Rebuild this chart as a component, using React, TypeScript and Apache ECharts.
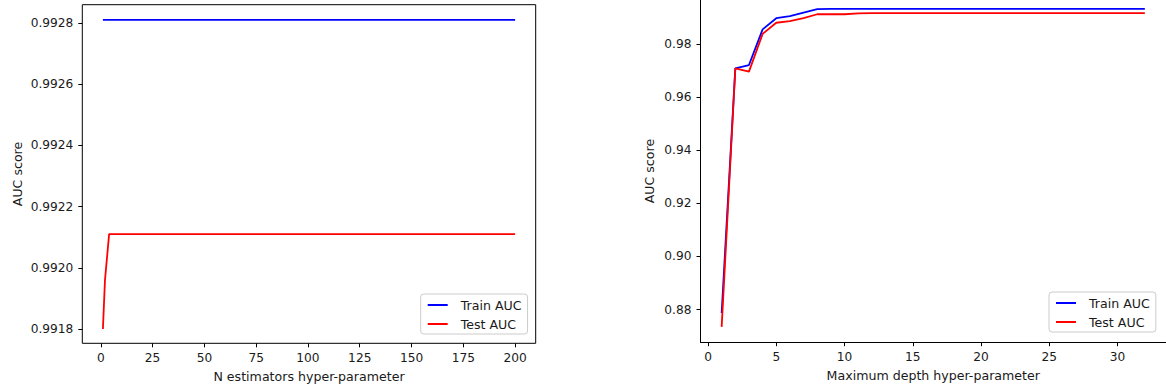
import React, { useEffect, useRef } from "react";
import * as echarts from "echarts";

// ---- data ----
const nEstimators = [1, 2, 4, 8, 16, 32, 64, 100, 200];
const trainAucEst = [0.99281, 0.99281, 0.99281, 0.99281, 0.99281, 0.99281, 0.99281, 0.99281, 0.99281];
const testAucEst = [0.9918, 0.99196, 0.99211, 0.99211, 0.99211, 0.99211, 0.99211, 0.99211, 0.99211];

const maxDepths = [1, 2, 3, 4, 5, 6, 7, 8, 9, 10, 11, 12, 13, 14, 15, 16, 17, 18, 19, 20, 21, 22, 23, 24, 25, 26, 27, 28, 29, 30, 31, 32];
const trainAucDepth = [0.8787, 0.9707, 0.972, 0.9854, 0.9896, 0.9904, 0.9917, 0.993, 0.9931, 0.9931, 0.9931, 0.9931, 0.9931, 0.9931, 0.9931, 0.9931, 0.9931, 0.9931, 0.9931, 0.9931, 0.9931, 0.9931, 0.9931, 0.9931, 0.9931, 0.9931, 0.9931, 0.9931, 0.9931, 0.9931, 0.9931, 0.9931];
const testAucDepth = [0.8735, 0.9707, 0.9695, 0.9837, 0.9879, 0.9885, 0.9896, 0.9911, 0.9911, 0.9911, 0.9914, 0.9915, 0.9915, 0.9915, 0.9915, 0.9915, 0.9915, 0.9915, 0.9915, 0.9915, 0.9915, 0.9915, 0.9915, 0.9915, 0.9915, 0.9915, 0.9915, 0.9915, 0.9915, 0.9915, 0.9915, 0.9915];

const estXTicks = [0, 25, 50, 75, 100, 125, 150, 175, 200];
const estYTicks = [0.9918, 0.992, 0.9922, 0.9924, 0.9926, 0.9928];
const depthXTicks = [0, 5, 10, 15, 20, 25, 30];
const depthYTicks = [0.88, 0.9, 0.92, 0.94, 0.96, 0.98];

const seriesNames = ["Train AUC", "Test AUC"];
const colors = ["#0000ff", "#ff0000"];

const FONT = "DejaVu Sans";
const TXT = "#1a1a1a";

function zip(xs: number[], ys: number[]) {
  return xs.map((x, i) => [x, ys[i]]);
}

function axisCommon(ticks: number[], digits: number, showLine: boolean) {
  return {
    nameLocation: "middle",
    nameTextStyle: { fontFamily: FONT, fontSize: 12.6, color: TXT },
    axisLine: { show: showLine, onZero: false, lineStyle: { color: "#000", width: 1 } },
    splitLine: { show: false },
    axisTick: { show: true, inside: false, length: 4, customValues: ticks, lineStyle: { color: "#000", width: 1 } },
    axisLabel: {
      show: true,
      customValues: ticks,
      margin: 9,
      fontFamily: FONT,
      fontSize: 12.2,
      color: TXT,
      formatter: (v: number) => v.toFixed(digits),
    },
  };
}

function legendCfg(left: number, top: number) {
  return {
    orient: "vertical",
    left,
    top,
    data: seriesNames.map((n) => ({ name: n, icon: "rect" })),
    itemWidth: 20,
    itemHeight: 2,
    itemGap: 5,
    padding: [4, 6, 3, 7],
    backgroundColor: "#ffffff",
    borderColor: "#cccccc",
    borderWidth: 1,
    borderRadius: 3,
    selectedMode: false,
    textStyle: { fontFamily: FONT, fontSize: 12.6, color: TXT, lineHeight: 14, padding: [0, 0, 0, 8] },
  };
}

export default function App() {
  const ref = useRef<HTMLDivElement>(null);
  useEffect(() => {
    if (!ref.current) return;
    const chart = echarts.init(ref.current, null, { renderer: "svg" });
    const line = (name: string, color: string, data: number[][], idx: number) => ({
      type: "line",
      name,
      xAxisIndex: idx,
      yAxisIndex: idx,
      data,
      symbol: "none",
      showSymbol: false,
      lineStyle: { color, width: 1.8 },
      itemStyle: { color },
      emphasis: { disabled: true },
    });
    chart.setOption({
      animation: false,
      backgroundColor: "#ffffff",
      grid: [
        { left: 82.3, top: 4.7, width: 453.4, height: 338.6, show: true, borderColor: "#000", borderWidth: 1, backgroundColor: "transparent" },
        { left: 700.5, top: 0, width: 468.3, height: 342.2, show: false },
      ],
      xAxis: [
        { type: "value", gridIndex: 0, min: -8.95, max: 209.95, name: "N estimators hyper-parameter", nameGap: 27, ...axisCommon(estXTicks, 0, false) },
        { type: "value", gridIndex: 1, min: -0.55, max: 33.55, name: "Maximum depth hyper-parameter", nameGap: 27, ...axisCommon(depthXTicks, 0, true) },
      ],
      yAxis: [
        { type: "value", gridIndex: 0, min: 0.99175327, max: 0.9928598, name: "AUC score", nameGap: 58, ...axisCommon(estYTicks, 4, false) },
        { type: "value", gridIndex: 1, min: 0.86772, max: 0.99646, name: "AUC score", nameGap: 45, ...axisCommon(depthYTicks, 2, true) },
      ],
      legend: [legendCfg(420.7, 294), legendCfg(1049, 292)],
      series: [
        line(seriesNames[0], colors[0], zip(nEstimators, trainAucEst), 0),
        line(seriesNames[1], colors[1], zip(nEstimators, testAucEst), 0),
        line(seriesNames[0], colors[0], zip(maxDepths, trainAucDepth), 1),
        line(seriesNames[1], colors[1], zip(maxDepths, testAucDepth), 1),
      ],
    });
    return () => chart.dispose();
  }, []);
  return (
    <div
      ref={ref}
      style={{ position: "fixed", left: 0, top: 0, width: 1166, height: 389, background: "#fff" }}
    />
  );
}
